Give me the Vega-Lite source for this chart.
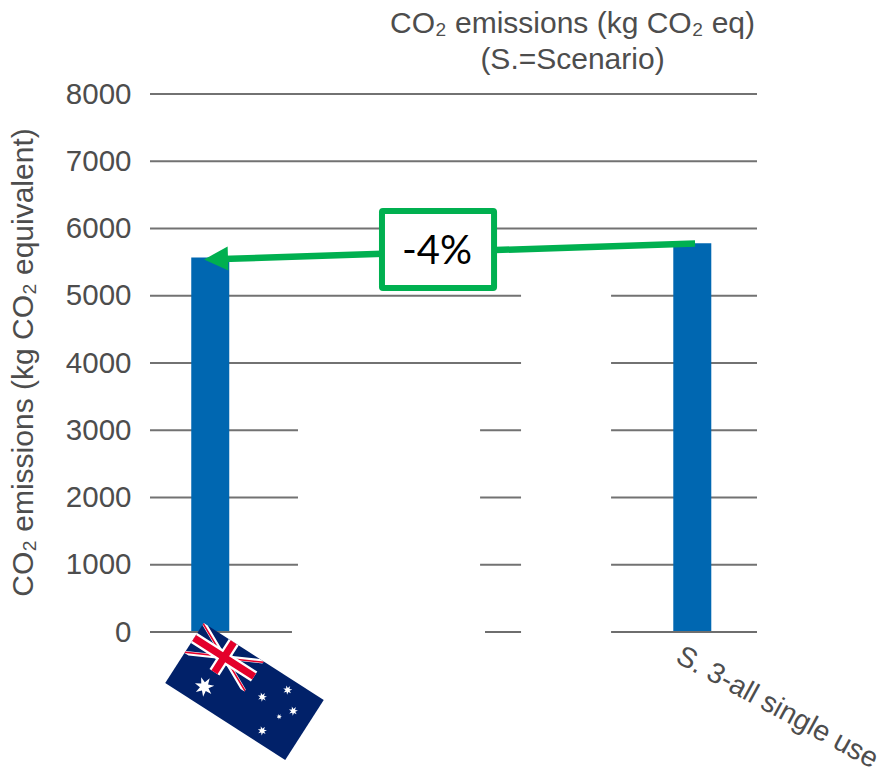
{
  "$schema": "https://vega.github.io/schema/vega-lite/v6.json",
  "width": 607,
  "height": 538,
  "autosize": "none",
  "padding": {"left": 150, "top": 94, "right": 133, "bottom": 135},
  "background": "white",
  "config": {"view": {"stroke": null}},
  "datasets": {
    "grid": [
      {"slot": 0.5, "slot_end": 5.537, "co2": 8000},
      {"slot": 0.5, "slot_end": 5.537, "co2": 7000},
      {"slot": 0.5, "slot_end": 5.537, "co2": 6000},
      {"slot": 0.5, "slot_end": 3.579, "co2": 5000},
      {"slot": 4.326, "slot_end": 5.537, "co2": 5000},
      {"slot": 0.5, "slot_end": 3.579, "co2": 4000},
      {"slot": 4.326, "slot_end": 5.537, "co2": 4000},
      {"slot": 0.5, "slot_end": 1.728, "co2": 3000},
      {"slot": 3.239, "slot_end": 3.579, "co2": 3000},
      {"slot": 4.326, "slot_end": 5.537, "co2": 3000},
      {"slot": 0.5, "slot_end": 1.728, "co2": 2000},
      {"slot": 3.239, "slot_end": 3.579, "co2": 2000},
      {"slot": 4.326, "slot_end": 5.537, "co2": 2000},
      {"slot": 0.5, "slot_end": 1.728, "co2": 1000},
      {"slot": 3.239, "slot_end": 3.579, "co2": 1000},
      {"slot": 4.326, "slot_end": 5.537, "co2": 1000}
    ],
    "baseline": [
      {"slot": 0.5, "slot_end": 1.678, "co2": 0},
      {"slot": 3.28, "slot_end": 3.579, "co2": 0},
      {"slot": 4.326, "slot_end": 5.537, "co2": 0}
    ],
    "bars": [
      {"scenario": "Australia", "slot": 1, "co2": 5570},
      {"scenario": "S. 3-all single use", "slot": 5, "co2": 5780}
    ],
    "connector": [{"slot": 5.023, "co2": 5777, "slot_end": 1.1, "co2_end": 5546}],
    "arrowhead": [{"slot": 1.048, "co2": 5546}],
    "box": [{"slot": 2.425, "co2": 6260, "slot_end": 3.355, "co2_end": 5115}],
    "change": [{"slot": 2.882, "co2": 5650, "label": "-4%"}],
    "flag": [{"slot": 1.284, "co2": -885}],
    "xlabel": [{"slot": 4.885, "co2": -320, "label": "S. 3-all single use"}]
  },
  "title": {
    "text": ["CO₂ emissions (kg CO₂ eq)", "(S.=Scenario)"],
    "anchor": "middle",
    "dx": 119,
    "offset": 4,
    "font": "Liberation Sans",
    "fontSize": 30,
    "fontWeight": "normal",
    "color": "#4d4d4d",
    "lineHeight": 36
  },
  "encoding": {
    "x": {"field": "slot", "type": "quantitative", "axis": null, "scale": {"domain": [0.5, 5.537], "nice": false, "zero": false, "padding": 0}},
    "y": {
      "field": "co2",
      "type": "quantitative",
      "scale": {"domain": [0, 8000], "nice": false},
      "axis": {
        "values": [0, 1000, 2000, 3000, 4000, 5000, 6000, 7000, 8000],
        "format": "d",
        "domain": false,
        "ticks": false,
        "grid": false,
        "labelFont": "Liberation Sans",
        "labelFontSize": 29.5,
        "labelColor": "#4d4d4d",
        "labelPadding": 19,
        "title": "CO₂ emissions (kg CO₂ equivalent)",
        "titleFont": "Liberation Sans",
        "titleFontSize": 30,
        "titleFontWeight": "normal",
        "titleColor": "#4d4d4d",
        "titleX": -112,
        "titleY": 268,
        "titleAngle": -90
      }
    }
  },
  "layer": [
    {
      "data": {"name": "grid"},
      "mark": {"type": "rule", "color": "#727272", "strokeWidth": 2.2},
      "encoding": {"x2": {"field": "slot_end"}}
    },
    {
      "data": {"name": "bars"},
      "mark": {"type": "bar", "orient": "vertical", "size": 38, "color": "#0067b1"}
    },
    {
      "data": {"name": "baseline"},
      "mark": {"type": "rule", "color": "#6e6e6e", "strokeWidth": 2.2},
      "encoding": {"x2": {"field": "slot_end"}}
    },
    {
      "data": {"name": "connector"},
      "mark": {"type": "rule", "color": "#00b050", "strokeWidth": 6.5},
      "encoding": {"x2": {"field": "slot_end"}, "y2": {"field": "co2_end"}}
    },
    {
      "data": {"name": "arrowhead"},
      "mark": {"type": "point", "shape": "M-1,0 L1,-1 L1,1 Z", "filled": true, "opacity": 1, "color": "#00b050", "size": 576, "angle": -2}
    },
    {
      "data": {"name": "box"},
      "mark": {"type": "rect", "fill": "white", "stroke": "#00b050", "strokeWidth": 6, "cornerRadius": 1},
      "encoding": {"x2": {"field": "slot_end"}, "y2": {"field": "co2_end"}}
    },
    {
      "data": {"name": "change"},
      "mark": {"type": "text", "font": "Lato", "fontSize": 40, "color": "#000000", "align": "center", "baseline": "middle"},
      "encoding": {"text": {"field": "label"}}
    },
    {
      "data": {"name": "xlabel"},
      "mark": {"type": "text", "font": "Liberation Sans", "fontSize": 28.5, "color": "#4d4d4d", "align": "left", "baseline": "middle", "angle": 28.5},
      "encoding": {"text": {"field": "label"}}
    },
    {
      "data": {"name": "flag"},
      "mark": {"type": "point", "filled": true, "opacity": 1, "size": 20335, "angle": 32.7, "color": "#012169", "shape": "M-1,-0.5 L1,-0.5 L1,0.5 L-1,0.5 Z"}
    },
    {
      "data": {"name": "flag"},
      "mark": {"type": "point", "filled": true, "opacity": 1, "size": 20335, "angle": 32.7, "color": "#ffffff",
        "shape": "M-1,-0.5 L-0.933,-0.5 L0,-0.033 L0,0 L-0.067,0 L-1,-0.467 Z M-1,0 L-1,-0.033 L-0.067,-0.5 L0,-0.5 L0,-0.467 L-0.933,0 Z M-0.51,0.108 l0.0269,0.0841 0.0826,-0.0314 -0.0491,0.0735 0.0761,0.045 -0.088,0.0075 0.0122,0.0874 -0.0607,-0.0641 -0.0607,0.0641 0.0122,-0.0874 -0.088,-0.0075 0.0761,-0.045 -0.0491,-0.0735 0.0826,0.0314 Z M0.252,-0.136 l0.0126,0.0399 0.039,-0.0151 -0.0233,0.0347 0.036,0.0212 -0.0416,0.0034 0.0059,0.0414 -0.0286,-0.0305 -0.0286,0.0305 0.0059,-0.0414 -0.0416,-0.0034 0.036,-0.0212 -0.0233,-0.0347 0.039,0.0151 Z M0.498,-0.411 l0.0126,0.0399 0.039,-0.0151 -0.0233,0.0347 0.036,0.0212 -0.0416,0.0034 0.0059,0.0414 -0.0286,-0.0305 -0.0286,0.0305 0.0059,-0.0414 -0.0416,-0.0034 0.036,-0.0212 -0.0233,-0.0347 0.039,0.0151 Z M0.724,-0.206 l0.0126,0.0399 0.039,-0.0151 -0.0233,0.0347 0.036,0.0212 -0.0416,0.0034 0.0059,0.0414 -0.0286,-0.0305 -0.0286,0.0305 0.0059,-0.0414 -0.0416,-0.0034 0.036,-0.0212 -0.0233,-0.0347 0.039,0.0151 Z M0.507,0.262 l0.0126,0.0399 0.039,-0.0151 -0.0233,0.0347 0.036,0.0212 -0.0416,0.0034 0.0059,0.0414 -0.0286,-0.0305 -0.0286,0.0305 0.0059,-0.0414 -0.0416,-0.0034 0.036,-0.0212 -0.0233,-0.0347 0.039,0.0151 Z M0.6,-0.006 l0.0076,0.0239 0.0234,-0.0091 -0.014,0.0208 0.0216,0.0127 -0.025,0.0020 0.0035,0.0248 -0.0172,-0.0183 -0.0172,0.0183 0.0035,-0.0248 -0.025,-0.0020 0.0216,-0.0127 -0.014,-0.0208 0.0234,0.0091 Z"}
    },
    {
      "data": {"name": "flag"},
      "mark": {"type": "point", "filled": true, "opacity": 1, "size": 20335, "angle": 32.7, "color": "#e4002b",
        "shape": "M-1,-0.5 L-0.5,-0.25 L-0.55,-0.25 L-1,-0.475 Z M0,0 L-0.5,-0.25 L-0.45,-0.25 L0,-0.025 Z M0,-0.5 L-0.5,-0.25 L-0.5,-0.225 L0,-0.475 Z M-1,0 L-0.5,-0.25 L-0.5,-0.275 L-1,-0.025 Z"}
    },
    {
      "data": {"name": "flag"},
      "mark": {"type": "point", "filled": true, "opacity": 1, "size": 20335, "angle": 32.7, "color": "#ffffff",
        "shape": "M-0.583,-0.5 L-0.417,-0.5 L-0.417,-0.333 L0,-0.333 L0,-0.167 L-0.417,-0.167 L-0.417,0 L-0.583,0 L-0.583,-0.167 L-1,-0.167 L-1,-0.333 L-0.583,-0.333 Z"}
    },
    {
      "data": {"name": "flag"},
      "mark": {"type": "point", "filled": true, "opacity": 1, "size": 20335, "angle": 32.7, "color": "#e4002b",
        "shape": "M-0.55,-0.5 L-0.45,-0.5 L-0.45,-0.3 L0,-0.3 L0,-0.2 L-0.45,-0.2 L-0.45,0 L-0.55,0 L-0.55,-0.2 L-1,-0.2 L-1,-0.3 L-0.55,-0.3 Z"}
    }
  ]
}
